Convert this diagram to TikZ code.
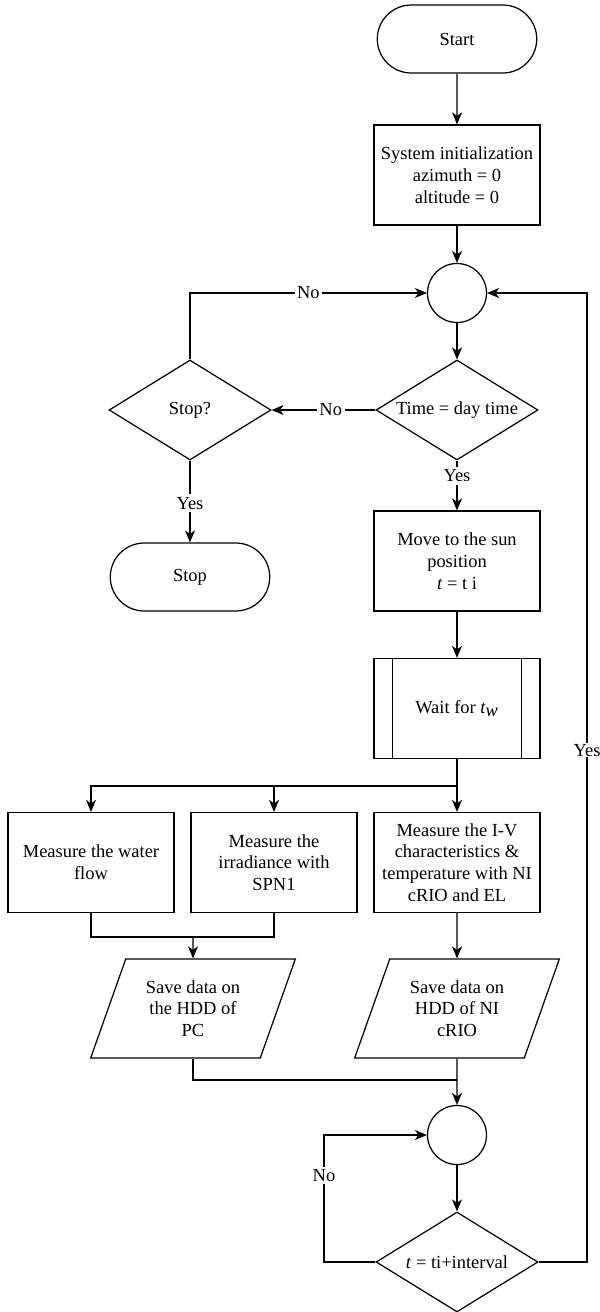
\documentclass[tikz,border=0pt]{standalone}
\usepackage{fontspec}
\setmainfont{Liberation Serif}
\usetikzlibrary{shapes.geometric,shapes.misc,arrows.meta}
\begin{document}
\begin{tikzpicture}[x=0.02cm,y=-0.02cm,
  font=\fontsize{10.5}{12.4}\selectfont,
  every node/.style={align=center, inner sep=1pt},
  base/.style={draw, line width=0.7pt},
  term/.style={base, rounded rectangle, minimum width=3.26cm, minimum height=1.36cm},
  box/.style={base, rectangle, minimum width=3.32cm, minimum height=2cm},
  dec/.style={base, diamond, aspect=1.62, minimum width=3.24cm, minimum height=2cm, inner sep=0pt},
  jn/.style={base, circle, minimum size=1.18cm, inner sep=0pt},
  io/.style={base, trapezium, trapezium left angle=67, trapezium right angle=113,
    trapezium stretches=true, minimum width=4.1cm, minimum height=1.98cm},
  arr/.style={line width=0.7pt, -{Stealth[length=2.4mm,width=2mm,inset=0.7mm]}},
  ln/.style={line width=0.7pt},
  lbl/.style={fill=white, inner sep=1.5pt}
]
\useasboundingbox (0,0) rectangle (599,1312);

% nodes
\node[term] (start) at (457,39) {Start};
\node[box] (init) at (457,175) {System initialization\\azimuth = 0\\altitude = 0};
\node[jn] (c1) at (457,293) {};
\node[dec] (time) at (457,410) {Time = day time};
\node[dec] (stopq) at (190,410) {Stop?};
\node[term] (stop) at (190,577) {Stop};
\node[box] (move) at (457,561) {Move to the sun\\position\\\textit{t} = t i};
\node[box] (wait) at (457,708.5) {Wait for $\textit{t}_{\textit{w}}$};
\draw[ln] ([xshift=0.38cm]wait.north west) -- ([xshift=0.38cm]wait.south west);
\draw[ln] ([xshift=-0.38cm]wait.north east) -- ([xshift=-0.38cm]wait.south east);
\node[box] (m1) at (91,862.5) {Measure the water\\flow};
\node[box] (m2) at (274,862.5) {Measure the\\irradiance with\\SPN1};
\node[box] (m3) at (457,862.5) {Measure the I-V\\characteristics \&\\temperature with NI\\cRIO and EL};
\node[io] (s1) at (193,1008.5) {Save data on\\the HDD of\\PC};
\node[io] (s2) at (457,1008.5) {Save data on\\HDD of NI\\cRIO};
\node[jn] (c2) at (457,1135) {};
\node[dec] (dint) at (457,1262) {\textit{t} = ti+interval};

\coordinate (br) at (457,786);
\coordinate (j1) at (193,937);
\coordinate (j2) at (457,1080);
\coordinate (lp) at (324,1262);
\coordinate (rp) at (587,1262);

% connectors
\draw[arr] (start) -- (init);
\draw[arr] (init) -- (c1);
\draw[arr] (c1) -- (time);
\draw[arr] (time.west) -- node[lbl, pos=0.43] {No} (stopq.east);
\draw[arr] (stopq.north) |- node[lbl, pos=0.75] {No} (c1.west);
\draw[arr] (stopq.south) -- node[lbl, pos=0.52] {Yes} (stop.north);
\draw[arr] (time.south) -- node[lbl, pos=0.31] {Yes} (move.north);
\draw[arr] (move) -- (wait);
\draw[arr] (wait.south) -- (m3.north);
\draw[arr] (br) -| (m1.north);
\draw[arr] (br) -| (m2.north);
\draw[ln] (m1.south) |- (j1);
\draw[ln] (m2.south) |- (j1);
\draw[arr] (j1) -- (s1.north);
\draw[arr] (m3) -- (s2);
\draw[ln] (s1.south) |- (j2);
\draw[arr] (s2.south) -- (c2.north);
\draw[arr] (c2) -- (dint);
\draw[arr] (dint.west) -- (lp) |- node[lbl, pos=0.34] {No} (c2.west);
\draw[arr] (dint.east) -- (rp) |- node[lbl, pos=0.264, inner sep=0.5pt] {Yes} (c1.east);
\end{tikzpicture}
\end{document}
